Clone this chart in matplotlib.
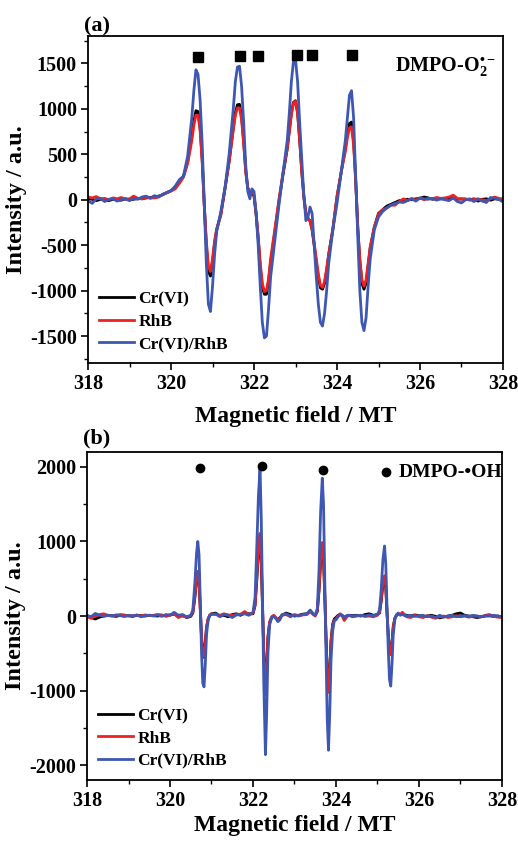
import numpy as np
import matplotlib
matplotlib.use('Agg')
import matplotlib.pyplot as plt
from matplotlib.ticker import MultipleLocator

plt.rcParams['font.family'] = ['Liberation Serif', 'DejaVu Serif']
plt.rcParams['font.weight'] = 'bold'
plt.rcParams['axes.unicode_minus'] = False
plt.rcParams['mathtext.fontset'] = 'custom'
plt.rcParams['mathtext.rm'] = 'Liberation Serif:bold'
plt.rcParams['mathtext.bf'] = 'Liberation Serif:bold'
plt.rcParams['mathtext.it'] = 'Liberation Serif:bold'

# ---- panel (a): DMPO-O2 spectra ----
field_a = [318.0, 318.1, 318.2, 318.3, 318.4, 318.5, 318.6, 318.7, 318.8, 318.9, 319.0,
           319.1, 319.2, 319.3, 319.4, 319.5, 319.6, 319.7, 319.8, 319.9, 320.0,
           320.1, 320.2, 320.3, 320.4, 320.5,
           320.55, 320.6, 320.65, 320.7, 320.75, 320.8, 320.85, 320.9, 320.95, 321.0, 321.05, 321.1,
           321.2, 321.3, 321.4, 321.5,
           321.55, 321.6, 321.65, 321.7, 321.75, 321.8, 321.85, 321.9, 321.95, 322.0, 322.05, 322.1,
           322.15, 322.2, 322.25, 322.3, 322.35, 322.4,
           322.5, 322.6, 322.7, 322.8,
           322.85, 322.9, 322.95, 323.0, 323.05, 323.1, 323.15, 323.2, 323.25, 323.3, 323.35, 323.4,
           323.45, 323.5, 323.55, 323.6, 323.65, 323.7, 323.75, 323.8,
           323.9, 324.0, 324.1,
           324.15, 324.2, 324.25, 324.3, 324.35, 324.4, 324.45, 324.5, 324.55, 324.6, 324.65, 324.7,
           324.75, 324.8,
           324.9, 325.0, 325.1, 325.2, 325.3, 325.4, 325.5, 325.6, 325.7, 325.8, 325.9, 326.0, 326.1,
           326.2, 326.3, 326.4, 326.5, 326.6, 326.7, 326.8, 326.9, 327.0, 327.1, 327.2, 327.3, 327.4,
           327.5, 327.6, 327.7, 327.8, 327.9, 328.0]

cr_a = [10, 5, -10, 5, 0, -10, 5, 0, -5, 10, 0, 5, 15, 10, 20, 25, 30, 40, 55, 80, 100,
        130, 200, 260, 420, 700,
        860, 980, 970, 800, 450, -50, -500, -790, -840, -680, -480, -330,
        -160, 120, 420, 790,
        960, 1045, 1050, 920, 650, 320, 130, 80, 80, 40, -160, -420, -740, -960, -1040, -1040, -900, -690,
        -360, -20, 280, 560,
        760, 950, 1070, 1090, 960, 660, 320, 40, -150, -210, -230, -330, -500, -680, -850, -970, -985, -920, -780, -600,
        -320, 30, 300,
        440, 570, 730, 840, 855, 650, 220, -300, -680, -920, -985, -920, -720, -530,
        -300, -150, -110, -70, -50, -30, -10, -5, 5, 0, 10, 15, 30, 20, 5, 15, 10, 15, 10, 20, 5, 10,
        5, 0, 10, -15, 5, 10, -5, 10, 5, 10]

rhb_a = [30, 20, 35, 10, 15, 0, 20, 10, 25, 5, 10, 40, 15, 10, 25, 20, 20, 30, 60, 75, 95,
         120, 180, 250, 400, 650,
         820, 930, 930, 760, 420, -50, -450, -730, -790, -650, -450, -320,
         -170, 130, 420, 770,
         930, 1010, 1010, 880, 620, 300, 130, 80, 90, 50, -150, -400, -700, -920, -1010, -1000, -870, -650,
         -330, 0, 300, 560,
         750, 940, 1060, 1085, 950, 650, 300, 30, -150, -200, -240, -330, -480, -650, -820, -940, -965, -900, -760, -600,
         -330, 40, 300,
         420, 530, 680, 790, 800, 600, 200, -300, -650, -880, -950, -880, -700, -520,
         -300, -160, -110, -90, -60, -60, -20, 10, -10, 15, -5, 20, 0, 15, 10, 25, 15, 20, 30, 50, 15, 5,
         10, -5, 5, 10, 0, -10, 10, 30, 15, 0]

both_a = [-10, -40, 10, 15, -20, 5, 10, -15, 0, 10, -10, 15, 5, 30, 40, 15, 45, 30, 60, 80, 100,
          150, 220, 260, 480, 900,
          1200, 1430, 1380, 1100, 620, -50, -700, -1150, -1230, -950, -600, -350,
          -130, 130, 500, 1000,
          1300, 1460, 1470, 1250, 850, 380, 90, 10, 120, 90, -150, -500, -950, -1350, -1520, -1500, -1200, -850,
          -450, -60, 300, 650,
          950, 1300, 1520, 1540, 1300, 850, 450, 50, -230, -190, -80, -150, -500, -850, -1150, -1350, -1390, -1250, -1000, -700,
          -330, -40, 300,
          480, 650, 900, 1150, 1200, 900, 250, -400, -1000, -1350, -1440, -1300, -950, -650,
          -330, -190, -130, -90, -60, -40, -25, -30, -10, 10, -15, 20, 10, 5, 15, -5, 10, 0, -10, 20, -20, -35,
          0, 10, -20, 5, -15, -30, 25, 15, 5, -25]

squares_x = [320.66, 321.66, 322.09, 323.03, 323.40, 324.37]
squares_y = [1570, 1578, 1578, 1595, 1595, 1595]

# ---- panel (b): DMPO-OH spectra ----
field_b = [318.0, 318.1, 318.2, 318.3, 318.4, 318.5, 318.6, 318.7, 318.8, 318.9, 319.0, 319.1, 319.2,
           319.3, 319.4, 319.5, 319.6, 319.7, 319.8, 319.9, 320.0, 320.1, 320.2, 320.3, 320.4, 320.5,
           320.55, 320.6, 320.64, 320.67, 320.7, 320.73, 320.76, 320.79, 320.82, 320.85, 320.88, 320.92,
           320.96, 321.0,
           321.1, 321.2, 321.3, 321.4, 321.5, 321.6, 321.7, 321.8, 321.9,
           322.0, 322.05, 322.09, 322.13, 322.17, 322.2, 322.23, 322.26, 322.3, 322.33, 322.36, 322.4,
           322.45, 322.5, 322.55, 322.6, 322.65, 322.7, 322.8, 322.9, 323.0, 323.1, 323.2, 323.3, 323.38,
           323.45, 323.5,
           323.55, 323.59, 323.63, 323.67, 323.7, 323.73, 323.76, 323.79, 323.82, 323.85, 323.88, 323.92,
           323.96, 324.0, 324.05, 324.1, 324.15, 324.2, 324.25, 324.3, 324.4, 324.5, 324.6, 324.7, 324.8,
           324.9, 325.0,
           325.05, 325.09, 325.13, 325.17, 325.2, 325.23, 325.26, 325.29, 325.32, 325.35, 325.38, 325.42,
           325.46, 325.5, 325.55, 325.6,
           325.7, 325.8, 325.9, 326.0, 326.1, 326.2, 326.3, 326.4, 326.5, 326.6, 326.7, 326.8, 326.9,
           327.0, 327.1, 327.2, 327.3, 327.4, 327.5, 327.6, 327.7, 327.8, 327.9, 328.0]

cr_b = [0, -20, -40, -15, 0, 10, 5, -5, 10, 0, 5, -5, 10, 5, 0, 10, 5, 0, 10, 5, 15, 25, 0, 10, -20, -5,
        40, 250, 480, 560, 450, 80, -280, -500, -530, -350, -150, -40, 10, 30,
        40, 0, 10, -10, 20, 30, 10, 40, 30,
        30, 140, 470, 850, 1050, 700, 90, -470, -1000, -700, -280, -90, -20, 0, -30, -50, -20, 10, 40,
        20, 0, 10, 25, 30, 70, 30, 10,
        60, 330, 720, 950, 770, 260, -280, -770, -980, -720, -330, -110, -40, -20, 10, 20, 10, -20, 0,
        10, 5, 10, 0, 20, 30, 10, 20,
        40, 200, 420, 520, 380, 40, -240, -450, -500, -350, -140, -30, 10, 30, 20, 20,
        10, 0, 15, 5, -10, 0, 10, -5, -25, -10, 0, 10, 30, 40, 10, 0, -10, -20, -10, 0, 5, -5, 0, -10]

rhb_b = [-10, -30, 0, 20, 30, 10, 0, 10, 20, 15, 0, 5, 10, 0, 15, 5, 10, 20, 15, -5, 10, 30, -20, 0, -15, 5,
         50, 280, 500, 600, 480, 100, -300, -530, -560, -380, -150, -30, 15, 30,
         20, 10, 30, 15, 10, 20, 25, 60, 20,
         40, 150, 500, 900, 1110, 750, 100, -500, -1060, -750, -300, -80, -10, 10, -20, -60, -30, 10, 20,
         -10, 20, 5, 15, 20, 60, 20, 0,
         70, 350, 750, 985, 800, 280, -300, -800, -1025, -750, -350, -120, -60, -40, 0, 30, 0, -60, -20,
         10, -10, 0, 10, -5, 0, -10, 10,
         50, 220, 440, 540, 400, 50, -250, -470, -520, -370, -150, -30, 10, 30, 20, 50,
         -10, -20, 10, -10, -20, 5, -15, -30, -10, 0, -20, -10, 5, -10, 0, -15, -5, 0, -10, 10, 20, -5, -15, -20]

both_b = [10, -10, 35, 10, -5, 10, 0, 15, 5, -5, 10, 0, 15, -10, 5, 10, 0, 15, -5, 20, 10, 50, 10, 20, -10, 10,
          80, 450, 850, 1000, 820, 200, -500, -900, -950, -650, -250, -50, 10, 20,
          30, -10, 20, 10, -20, 15, 20, 30, 10,
          50, 250, 900, 1600, 1990, 1300, 200, -900, -1860, -1300, -500, -120, -20, 0, -30, -75, -50, 20, 30,
          0, 10, 0, 20, 30, 80, 30, 10,
          100, 600, 1400, 1850, 1500, 500, -500, -1400, -1800, -1300, -600, -200, -60, -50, -10, 20, 10, -30, 0,
          10, 0, 5, 10, 0, 15, 5, 20,
          80, 350, 750, 940, 700, 100, -450, -850, -940, -650, -250, -40, 20, 40, 10, 20,
          0, 10, -5, 5, 10, -10, 0, -20, 10, -15, 0, 10, -10, 0, 5, -5, 10, 0, -10, 5, 0, 10, 0, -10]

dots_x = [320.72, 322.21, 323.69, 325.20]
dots_y = [1980, 2015, 1960, 1930]

labels = ['Cr(VI)', 'RhB', 'Cr(VI)/RhB']
colors = ['#000000', '#f02020', '#3d57b3']

for arr in [cr_a, rhb_a, both_a]:
    assert len(arr) == len(field_a), len(arr)
for arr in [cr_b, rhb_b, both_b]:
    assert len(arr) == len(field_b), len(arr)

fig = plt.figure(figsize=(5.18, 8.41), dpi=100)
ax1 = fig.add_axes([0.170, 0.568, 0.801, 0.389])
ax2 = fig.add_axes([0.168, 0.0725, 0.801, 0.390])


def style_axis(ax, ymaj, ymin, ylim, xpad):
    ax.set_xlim(318, 328)
    ax.set_ylim(-ylim, ylim)
    ax.xaxis.set_major_locator(MultipleLocator(2))
    ax.xaxis.set_minor_locator(MultipleLocator(1))
    ax.yaxis.set_major_locator(MultipleLocator(ymaj))
    ax.yaxis.set_minor_locator(MultipleLocator(ymin))
    ax.tick_params(which='major', direction='out', length=5, width=1.2, labelsize=14.5, pad=3)
    ax.tick_params(which='minor', direction='out', length=3, width=1.0)
    for s in ax.spines.values():
        s.set_linewidth(1.3)
    for lab in ax.get_xticklabels() + ax.get_yticklabels():
        lab.set_fontweight('bold')
    ax.set_xlabel('Magnetic field / MT', fontsize=17, fontweight='bold', labelpad=xpad)
    ax.set_ylabel('Intensity / a.u.', fontsize=17.5, fontweight='bold', labelpad=2)


for ys, lab, col in zip([cr_a, rhb_a, both_a], labels, colors):
    ax1.plot(field_a, ys, color=col, lw=2.0, label=lab)
ax1.plot(squares_x, squares_y, 's', color='black', markersize=7, linestyle='none')
ax1.text(325.4, 1460, 'DMPO-O$_2^{\u2022-}$', fontsize=14.5, fontweight='bold', va='center')
style_axis(ax1, 500, 250, 1800, 8)
ax1.legend(loc='lower left', frameon=False, fontsize=12.5, handlelength=2.0,
           handletextpad=0.25, labelspacing=0.35, borderaxespad=0.25)
ax1.text(-0.01, 1.015, '(a)', transform=ax1.transAxes, fontsize=16, fontweight='bold')

for ys, lab, col in zip([cr_b, rhb_b, both_b], labels, colors):
    ax2.plot(field_b, ys, color=col, lw=2.0, label=lab)
ax2.plot(dots_x, dots_y, 'o', color='black', markersize=6, linestyle='none')
ax2.text(325.52, 1925, 'DMPO-\u2022OH', fontsize=14, fontweight='bold', va='center')
style_axis(ax2, 1000, 500, 2200, 3)
ax2.legend(loc='lower left', frameon=False, fontsize=12.5, handlelength=2.0,
           handletextpad=0.25, labelspacing=0.35, borderaxespad=0.25)
ax2.text(-0.01, 1.025, '(b)', transform=ax2.transAxes, fontsize=16, fontweight='bold')

plt.savefig('out.png', dpi=100)
